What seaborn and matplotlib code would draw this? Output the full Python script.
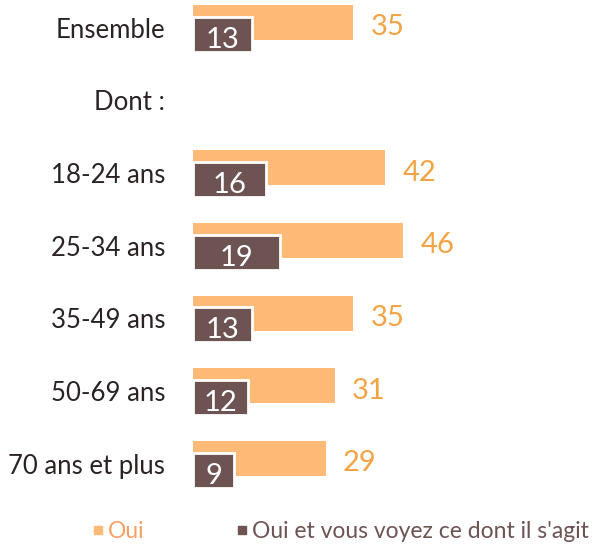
import numpy as np
import pandas as pd
import seaborn as sns
import matplotlib.pyplot as plt
from matplotlib.lines import Line2D
from matplotlib.transforms import ScaledTranslation

categories = ['Ensemble', 'Dont :', '18-24 ans', '25-34 ans', '35-49 ans', '50-69 ans', '70 ans et plus']
oui = [35, np.nan, 42, 46, 35, 31, 29]
oui_voyez = [13, np.nan, 16, 19, 13, 12, 9]

c_oui = '#FFBA78'
c_oui_txt = '#F2A444'
c_dark = '#6E5353'

sns.set_theme(style='white')
plt.rcParams['font.family'] = ['Lato', 'DejaVu Sans']

df = pd.DataFrame({'cat': categories, 'oui': oui, 'voyez': oui_voyez})

fig = plt.figure(figsize=(5.92, 5.46), dpi=100)
ax = fig.add_axes([193 / 592, 46 / 546, 399 / 592, 500 / 546])

sns.barplot(data=df, x='oui', y='cat', order=categories, color=c_oui, width=0.48,
            saturation=1, edgecolor='none', ax=ax)
n = len(ax.patches)
sns.barplot(data=df, x='voyez', y='cat', order=categories, color=c_dark, width=0.48,
            saturation=1, edgecolor='white', linewidth=2, ax=ax)
# shift the dark bars down a bit so they overlap the orange ones
for p in ax.patches[n:]:
    p.set_y(p.get_y() + 0.16)

for i, (a, b) in enumerate(zip(oui, oui_voyez)):
    if np.isnan(a):
        continue
    ax.text(a + 3.8, i + 0.03, f'{a:.0f}', color=c_oui_txt, fontsize=21,
            va='center_baseline', ha='left')
    ax.text(b / 2, i + 0.2, f'{b:.0f}', color='white', fontsize=21,
            va='center_baseline', ha='center')

ax.set_xlim(0, 87.3)
ax.set_ylim(6.57, -0.31)
ax.set_xlabel('')
ax.set_ylabel('')
ax.set_xticks([])
ax.tick_params(axis='y', length=0, pad=20, labelsize=18.5, labelcolor='#2b2323')
shift = ScaledTranslation(0, -0.05, fig.dpi_scale_trans)
for lbl in ax.get_yticklabels():
    lbl.set_transform(lbl.get_transform() + shift)
sns.despine(ax=ax, left=True, bottom=True)

handles = [Line2D([], [], marker='s', ls='', color=c_oui, markersize=6),
           Line2D([], [], marker='s', ls='', color=c_dark, markersize=6)]
leg = fig.legend(handles, ['Oui', "Oui et vous voyez ce dont il s'agit"], loc='center left',
                 bbox_to_anchor=(91 / 592, 0.027), ncol=2, frameon=False, fontsize=16.5,
                 handletextpad=0.15, handlelength=0.6, columnspacing=3.95,
                 borderpad=0, borderaxespad=0)
leg.get_texts()[0].set_color('#F89F63')
leg.get_texts()[1].set_color(c_dark)

fig.savefig('out.png', dpi=100)
